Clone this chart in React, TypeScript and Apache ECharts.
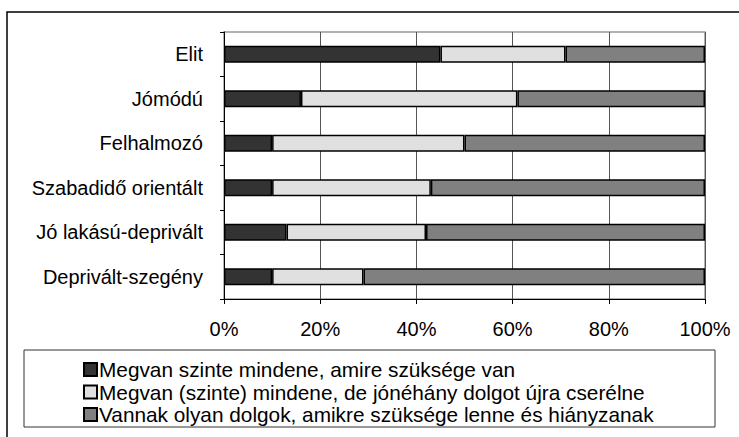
import React, { useEffect, useRef } from "react";
import * as echarts from "echarts";

const categories = [
  "Elit",
  "Jómódú",
  "Felhalmozó",
  "Szabadidő orientált",
  "Jó lakású-deprivált",
  "Deprivált-szegény",
];
const seriesNames = [
  "Megvan szinte mindene, amire szüksége van",
  "Megvan (szinte) mindene, de jónéhány dolgot újra cserélne",
  "Vannak olyan dolgok, amikre szüksége lenne és hiányzanak",
];
const haveAll = [45, 16, 10, 10, 13, 10];
const wouldReplace = [26, 45, 40, 33, 29, 19];
const missing = [29, 39, 50, 57, 58, 71];
const xTicks = [0, 20, 40, 60, 80, 100];

const colors = ["#333333", "#e0e0e0", "#808080"];
const FONT = "'Liberation Sans', Arial, sans-serif";

export default function App() {
  const ref = useRef<HTMLDivElement>(null);
  useEffect(() => {
    if (!ref.current) return;
    const chart = echarts.init(ref.current, undefined, { renderer: "svg" });
    const data = [haveAll, wouldReplace, missing];
    chart.setOption({
      animation: false,
      backgroundColor: "#ffffff",
      textStyle: { fontFamily: FONT },
      grid: {
        left: 224,
        right: 34,
        top: 32,
        bottom: 138,
        show: true,
        borderColor: "#999999",
        borderWidth: 1.5,
      },
      xAxis: {
        type: "value",
        min: xTicks[0],
        max: xTicks[xTicks.length - 1],
        interval: 20,
        axisLine: { show: true, lineStyle: { color: "#000", width: 1 } },
        axisTick: { show: true, length: 5, lineStyle: { color: "#000" } },
        axisLabel: {
          formatter: "{value}%",
          color: "#000",
          fontSize: 20,
          fontFamily: FONT,
          margin: 20,
        },
        splitLine: { show: true, lineStyle: { color: "#555", width: 1 } },
      },
      yAxis: {
        type: "category",
        data: categories,
        inverse: true,
        axisLine: { show: true, lineStyle: { color: "#000", width: 1 } },
        axisTick: { show: true, length: 4, lineStyle: { color: "#000" } },
        axisLabel: {
          color: "#000",
          fontSize: 20,
          fontFamily: FONT,
          margin: 21,
        },
        splitLine: { show: false },
      },
      legend: {
        orient: "vertical",
        left: 83,
        top: 359,
        padding: 0,
        itemWidth: 13,
        itemHeight: 13,
        itemGap: 1.5,
        icon: "rect",
        textStyle: {
          color: "#000",
          fontSize: 20.8,
          fontFamily: FONT,
          lineHeight: 20,
          padding: [0, 0, 0, -3],
        },
        data: seriesNames,
      },
      graphic: [
        {
          type: "rect",
          z: -1,
          shape: { x: 7, y: 12, width: 800, height: 500 },
          style: { fill: "none", stroke: "#000", lineWidth: 1.5 },
        },
        {
          type: "rect",
          z: -1,
          shape: { x: 24, y: 350, width: 691, height: 77 },
          style: { fill: "none", stroke: "#333", lineWidth: 1 },
        },
      ],
      series: seriesNames.map((name, i) => ({
        name,
        type: "bar",
        stack: "total",
        barWidth: 17,
        data: data[i],
        itemStyle: { color: colors[i], borderColor: "#000", borderWidth: 1.5 },
      })),
    });
    return () => chart.dispose();
  }, []);
  return (
    <div
      ref={ref}
      style={{ position: "fixed", left: 0, top: 0, width: 739, height: 437 }}
    />
  );
}
